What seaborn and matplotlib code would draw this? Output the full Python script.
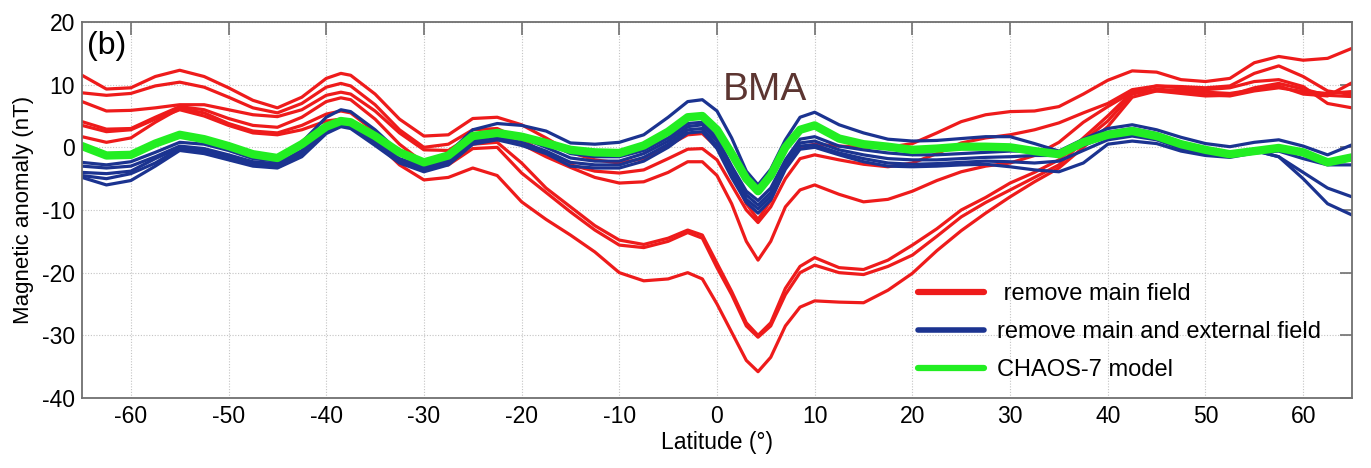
import numpy as np
import pandas as pd
import matplotlib
matplotlib.use("Agg")
import matplotlib.pyplot as plt
from matplotlib.lines import Line2D
import seaborn as sns

# Latitude samples (degrees), denser across the equatorial anomaly
lat = [-65, -62.5, -60, -57.5, -55, -52.5, -50, -47.5, -45, -42.5, -40, -38.5, -37.5,
       -35, -32.5, -30, -27.5, -25, -22.5, -20, -17.5, -15, -12.5, -10, -7.5, -5,
       -3, -1.5, 0, 1.5, 3, 4.2, 5.5, 7, 8.5, 10, 12.5, 15, 17.5, 20, 22.5, 25,
       27.5, 30, 32.5, 35, 37.5, 40, 42.5, 45, 47.5, 50, 52.5, 55, 57.5, 60,
       62.5, 65]

# Residuals after removing the main field (nT), one list per track
main_a = [11.5, 9.3, 9.5, 11.3, 12.3, 11.3, 9.5, 7.5, 6.3, 8.0, 11.0, 11.8, 11.5,
          8.5, 4.5, 1.8, 2.0, 4.6, 4.8, 3.6, 1.5, -0.8, -2.0, -2.5, -1.8, 0.3,
          2.0, 2.2, 0.0, -4.0, -9.0, -11.5, -8.5, -3.0, 0.0, 0.5, 0.2, 0.0, 0.0,
          0.6, 2.3, 4.1, 5.2, 5.7, 5.8, 6.5, 8.5, 10.7, 12.2, 12.0, 10.8, 10.5,
          11.0, 13.5, 14.5, 13.9, 14.2, 15.8]
main_b = [8.7, 8.3, 8.6, 9.8, 10.4, 9.6, 8.0, 6.3, 5.5, 7.0, 9.6, 10.2, 9.8,
          6.8, 2.8, 0.0, 0.5, 2.8, 3.0, 1.2, -1.0, -2.8, -3.8, -4.1, -3.6, -1.8,
          -0.3, -0.2, -2.0, -6.0, -10.0, -12.0, -9.5, -5.0, -1.8, -1.2, -2.0,
          -2.7, -3.1, -2.5, -1.0, 0.7, 1.5, 2.0, 2.8, 3.9, 5.5, 7.0, 9.2, 9.8,
          9.7, 9.5, 9.8, 11.8, 13.0, 11.3, 9.0, 8.4]
main_c = [7.3, 5.8, 5.9, 6.3, 6.8, 6.8, 6.0, 5.2, 4.9, 6.0, 8.3, 8.8, 8.5,
          5.8, 2.3, -0.4, -0.5, 2.0, 2.2, 0.5, -1.5, -3.2, -4.8, -5.7, -5.5,
          -4.0, -2.3, -2.3, -4.5, -9.0, -15.0, -18.0, -15.0, -9.5, -6.8, -6.0,
          -7.5, -8.7, -8.3, -7.0, -5.3, -3.9, -3.0, -2.5, -1.3, 0.8, 4.0, 6.5,
          8.8, 9.8, 9.5, 9.2, 9.5, 10.5, 10.8, 9.7, 7.0, 6.3]
main_d = [4.1, 2.9, 3.0, 4.8, 6.5, 6.0, 4.6, 3.5, 3.2, 4.8, 7.3, 7.9, 7.6,
          4.5, 0.5, -2.5, -2.2, 0.5, 0.8, -2.5, -6.5, -9.5, -12.5, -14.8, -15.5,
          -14.5, -13.2, -14.0, -18.5, -23.0, -28.0, -30.0, -28.0, -22.5, -19.0,
          -17.6, -19.2, -19.5, -18.0, -15.6, -13.0, -10.0, -8.0, -5.7, -4.0,
          -2.0, 1.5, 5.0, 8.8, 9.0, 9.2, 8.8, 8.6, 9.2, 9.8, 8.5, 8.2, 10.3]
main_e = [1.7, 0.8, 1.5, 4.0, 6.2, 5.5, 3.8, 2.6, 2.3, 3.5, 5.3, 5.8, 5.5,
          2.5, -1.0, -3.0, -2.8, -0.2, 0.0, -4.1, -7.2, -10.3, -13.2, -15.6,
          -16.0, -15.0, -13.6, -14.5, -19.2, -23.5, -28.5, -30.3, -28.5, -23.5,
          -20.0, -18.8, -20.0, -20.3, -19.0, -17.2, -14.2, -11.1, -8.8, -6.8,
          -4.8, -2.8, 1.0, 4.2, 8.5, 9.3, 9.0, 8.4, 8.2, 9.0, 9.5, 8.9, 8.6, 8.9]
main_f = [3.5, 2.5, 2.8, 4.5, 6.0, 5.0, 3.5, 2.3, 2.0, 2.8, 4.2, 4.5, 4.2,
          1.0, -2.8, -5.2, -4.8, -3.3, -4.5, -8.7, -11.5, -14.0, -16.7, -20.0,
          -21.3, -21.0, -20.0, -21.0, -25.0, -29.5, -34.0, -35.8, -33.5, -28.5,
          -25.5, -24.5, -24.7, -24.8, -22.8, -20.1, -16.5, -13.3, -10.5, -7.9,
          -5.5, -3.3, 0.0, 3.3, 8.0, 9.0, 8.6, 8.2, 8.3, 9.5, 10.2, 9.3, 8.3, 8.1]

# Residuals after removing the main and external fields (nT)
ext_a = [-2.4, -2.8, -2.3, -0.8, 0.8, 0.5, -0.5, -1.8, -2.2, 0.8, 4.8, 6.0, 5.7,
         2.8, -0.8, -2.8, -1.0, 2.8, 3.8, 3.5, 2.6, 0.7, 0.5, 0.8, 2.0, 4.8,
         7.3, 7.6, 5.8, 1.5, -3.8, -6.0, -3.5, 1.2, 4.8, 5.6, 3.6, 2.3, 1.3,
         1.0, 1.1, 1.4, 1.7, 1.7, 0.6, -0.6, 1.3, 3.0, 3.6, 2.8, 1.6, 0.6, 0.1,
         0.8, 1.2, 0.2, -1.2, 0.4]
ext_b = [-3.0, -3.3, -3.0, -1.5, 0.2, -0.2, -1.2, -2.3, -2.6, -0.5, 3.0, 3.9,
         3.6, 1.0, -1.8, -3.1, -2.0, 1.5, 2.5, 2.0, 0.8, -1.0, -1.5, -1.5, -0.5,
         1.5, 3.8, 4.0, 1.5, -3.0, -7.0, -8.5, -6.5, -2.0, 1.3, 1.7, 0.2, -0.4,
         -0.9, -1.2, -1.2, -1.0, -0.8, -0.6, -0.6, -0.8, 0.8, 2.4, 3.0, 2.2,
         0.8, -0.3, -0.9, -0.3, 0.0, -1.0, -2.5, -1.9]
ext_c = [-4.0, -4.2, -3.8, -1.8, 0.0, -0.5, -1.5, -2.6, -3.0, -0.8, 2.8, 3.7,
         3.4, 0.8, -2.0, -3.4, -2.4, 1.0, 2.0, 1.5, 0.0, -1.7, -2.2, -2.2, -1.0,
         1.0, 3.3, 3.6, 1.0, -3.6, -7.6, -9.2, -7.2, -2.5, 0.7, 1.0, -0.4, -1.2,
         -1.8, -2.0, -2.0, -1.8, -1.6, -1.5, -1.3, -1.3, 0.3, 1.8, 2.5, 1.7,
         0.3, -0.7, -1.3, -0.5, -1.5, -4.0, -6.5, -7.9]
ext_d = [-4.5, -5.0, -4.2, -2.5, -0.2, -0.7, -1.8, -2.8, -3.2, -1.2, 2.5, 3.5,
         3.3, 0.5, -2.3, -3.7, -2.6, 0.7, 1.5, 0.8, -0.6, -2.4, -2.8, -2.8,
         -1.6, 0.5, 2.8, 3.0, 0.3, -4.2, -8.3, -9.8, -7.8, -3.0, 0.2, 0.4, -0.9,
         -1.8, -2.5, -2.7, -2.6, -2.4, -2.2, -2.3, -2.5, -2.2, -0.5, 1.2, 1.8,
         1.2, -0.2, -1.0, -1.5, -0.5, -1.5, -5.0, -9.0, -10.8]
ext_e = [-4.8, -6.0, -5.3, -3.0, -0.5, -1.0, -2.0, -3.0, -3.3, -1.5, 2.2, 3.3,
         3.0, 0.3, -2.5, -3.9, -2.8, 0.5, 1.2, 0.3, -1.0, -3.0, -3.3, -3.3,
         -2.2, 0.0, 2.3, 2.5, -0.2, -4.8, -8.8, -10.5, -8.4, -3.5, -0.3, 0.0,
         -1.2, -2.3, -3.0, -3.1, -3.0, -2.8, -2.7, -3.1, -3.6, -3.9, -2.5, 0.5,
         1.0, 0.6, -0.6, -1.3, -1.6, -0.9, -0.6, -1.8, -2.8, -2.8]

# CHAOS-7 crustal field prediction (nT)
chaos7 = [0.2, -1.3, -1.2, 0.6, 2.0, 1.3, 0.2, -1.1, -1.7, 0.5, 3.3, 4.2, 4.0,
          1.8, -0.8, -2.4, -1.3, 1.8, 2.3, 1.7, 0.7, -0.4, -0.8, -0.9, 0.3, 2.5,
          4.8, 5.0, 2.8, -1.0, -5.0, -7.0, -4.5, 0.0, 2.8, 3.5, 1.4, 0.5, 0.1,
          -0.4, -0.2, 0.1, 0.1, 0.0, -0.6, -1.1, 0.8, 2.0, 2.6, 1.8, 0.5, -0.4,
          -1.1, -0.6, -0.1, -0.8, -2.4, -1.6]

main_tracks = {"A": main_a, "B": main_b, "C": main_c, "D": main_d, "E": main_e, "F": main_f}
ext_tracks = {"A": ext_a, "B": ext_b, "C": ext_c, "D": ext_d, "E": ext_e}

legend_labels = [" remove main field", "remove main and external field", "CHAOS-7 model"]
x_ticks = [-60, -50, -40, -30, -20, -10, 0, 10, 20, 30, 40, 50, 60]
y_ticks = [-40, -30, -20, -10, 0, 10, 20]

RED = "#ee1b1b"
BLUE = "#1b3390"
GREEN = "#22ee22"


def long_form(tracks):
    rows = []
    for name, vals in tracks.items():
        for x, v in zip(lat, vals):
            rows.append({"lat": x, "nT": v, "track": name})
    return pd.DataFrame(rows)


df_main = long_form(main_tracks)
df_ext = long_form(ext_tracks)
df_chaos = pd.DataFrame({"lat": lat, "nT": chaos7})

sns.set_theme(style="white")
plt.rcParams["font.family"] = ["Liberation Sans", "DejaVu Sans"]
plt.rcParams["axes.unicode_minus"] = False
plt.rcParams["text.color"] = "black"
plt.rcParams["axes.labelcolor"] = "black"

fig = plt.figure(figsize=(13.71, 4.68), dpi=100)
ax = fig.add_axes([82 / 1371, 1 - 398 / 468, (1352 - 82) / 1371, (398 - 22) / 468])

line_kw = dict(solid_joinstyle="round", solid_capstyle="round")
sns.lineplot(data=df_main, x="lat", y="nT", units="track", estimator=None, sort=False,
             color=RED, linewidth=2.3, ax=ax, legend=False, **line_kw)
sns.lineplot(data=df_ext, x="lat", y="nT", units="track", estimator=None, sort=False,
             color=BLUE, linewidth=2.3, ax=ax, legend=False, **line_kw)
sns.lineplot(data=df_chaos, x="lat", y="nT", estimator=None, sort=False,
             color=GREEN, linewidth=6, ax=ax, legend=False, **line_kw)

ax.set_xlim(-65, 65)
ax.set_ylim(-40, 20)
ax.set_xticks(x_ticks)
ax.set_yticks(y_ticks)
ax.grid(True, linestyle=(0, (1, 1.5)), color="#c4c4c4", linewidth=0.8)
ax.tick_params(direction="in", length=9, width=1.2, color="#707070",
               top=True, right=True, labelsize=16.5, pad=5, labelcolor="black")
for sp in ax.spines.values():
    sp.set_color("#707070")
    sp.set_linewidth(1.3)

ax.set_xlabel("Latitude (°)", fontsize=16.5, labelpad=2)
ax.set_ylabel("Magnetic anomaly (nT)", fontsize=16, labelpad=6)

ax.text(0.004, 0.975, "(b)", transform=ax.transAxes, fontsize=23, va="top", ha="left")
ax.text(4.9, 7.6, "BMA", fontsize=28, color="#5c3531", ha="center", va="baseline")

handles = [Line2D([], [], color=RED, linewidth=4.5),
           Line2D([], [], color=BLUE, linewidth=4),
           Line2D([], [], color=GREEN, linewidth=4.5)]
ax.legend(handles, legend_labels, loc="lower left", bbox_to_anchor=(0.651, 0.02),
          frameon=False, fontsize=17, handlelength=2.8, handletextpad=0.55,
          labelspacing=0.68, borderaxespad=0)

fig.savefig("out.png", dpi=100)
